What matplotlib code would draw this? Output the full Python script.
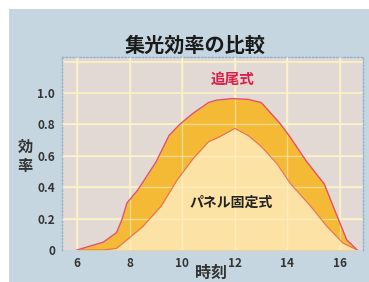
import matplotlib
matplotlib.use("Agg")
import matplotlib.pyplot as plt

plt.rcParams['font.family'] = ['Noto Sans CJK JP', 'DejaVu Sans']

# data
hours_track = [6.0, 6.5, 7.0, 7.5, 7.7, 7.9, 8.3, 9.0, 9.5, 9.9, 10.4, 11.0, 11.3, 11.9, 12.5, 13.0, 13.7, 14.1, 14.7, 15.4, 15.9, 16.25, 16.65]
eff_track   = [0.0, 0.025, 0.05, 0.11, 0.19, 0.30, 0.38, 0.56, 0.73, 0.80, 0.87, 0.94, 0.955, 0.965, 0.96, 0.94, 0.81, 0.72, 0.57, 0.42, 0.21, 0.065, 0.0]
hours_fixed = [6.0, 7.0, 7.5, 7.9, 8.5, 9.2, 9.8, 10.4, 11.0, 11.4, 12.0, 12.5, 13.0, 13.6, 14.1, 14.9, 15.5, 16.1, 16.65]
eff_fixed   = [0.0, 0.0, 0.01, 0.065, 0.15, 0.28, 0.445, 0.58, 0.69, 0.72, 0.775, 0.73, 0.66, 0.55, 0.425, 0.275, 0.15, 0.045, 0.0]
x_ticks = [6, 8, 10, 12, 14, 16]
y_ticks = [0, 0.2, 0.4, 0.6, 0.8, 1.0]
y_ticklabels = ['0', '0.2', '0.4', '0.6', '0.8', '1.0']
title = '集光効率の比較'
label_track = '追尾式'
label_fixed = 'パネル固定式'

W, H = 369, 282
fig = plt.figure(figsize=(W / 100, H / 100), dpi=100)
fig.patch.set_facecolor('white')
bg = fig.add_axes([9 / W, 0, 1 - 9 / W, 1 - 9 / H])
bg.set_facecolor('#c6d6e0')
bg.set_xticks([]); bg.set_yticks([])
for s in bg.spines.values():
    s.set_visible(False)
bg.set_zorder(0)

ax = fig.add_axes([62 / W, 32 / H, 301 / W, 193 / H])
ax.set_zorder(1)
ax.set_facecolor('#e2d9d4')
ax.set_xlim(5.43, 16.87)
ax.set_ylim(0, 1.23)

for g in [0.2, 0.4, 0.6, 0.8, 1.0, 1.2]:
    ax.axhline(g, color='#fbf1c4', lw=1.3, zorder=1)
for g in x_ticks:
    ax.axvline(g, color='#fbf1c4', lw=1.3, zorder=1)

ax.fill_between(hours_track, eff_track, color='#f4b935', lw=0, zorder=2)
ax.fill_between(hours_fixed, eff_fixed, color='#fde2a6', lw=0, zorder=3)
ax.plot(hours_track, eff_track, color='#e2506a', lw=1.0, zorder=4)
ax.plot(hours_fixed, eff_fixed, color='#e87060', lw=0.8, zorder=4)

for g in [0.2, 0.4, 0.6, 0.8]:
    ax.axhline(g, color='#fff4cc', lw=1.0, alpha=0.6, zorder=3.5)
for g in x_ticks:
    ax.axvline(g, color='#fff4cc', lw=1.0, alpha=0.6, zorder=3.5)

ax.set_xticks(x_ticks)
ax.set_xticklabels([str(t) for t in x_ticks])
ax.set_yticks(y_ticks)
ax.set_yticklabels(y_ticklabels)
ax.tick_params(length=0, labelsize=8.5, colors='#333333', pad=5)
for lab in ax.get_xticklabels() + ax.get_yticklabels():
    lab.set_fontweight('bold')
for s in ax.spines.values():
    s.set_color('#8fb2d4')
    s.set_linestyle((0, (1, 1.5)))
    s.set_linewidth(1.0)
ax.spines['bottom'].set_visible(False)

ax.text(11.9, 1.09, label_track, color='#d8204c', fontsize=10.5, fontweight='bold', ha='center', va='center', zorder=5)
ax.text(11.85, 0.3, label_fixed, color='#222222', fontsize=10, fontweight='bold', ha='center', va='center', zorder=5)

fig.text(195 / W, 1 - 45 / H, title, fontsize=14.5, fontweight='bold', color='#1a1a1a', ha='center', va='center', zorder=3)
fig.text(25 / W, 1 - 147 / H, '効', fontsize=11, fontweight='bold', color='#333333', ha='center', va='center', zorder=3)
fig.text(25 / W, 1 - 166 / H, '率', fontsize=11, fontweight='bold', color='#333333', ha='center', va='center', zorder=3)
fig.text(211 / W, 1 - 273 / H, '時刻', fontsize=11.5, fontweight='bold', color='#333333', ha='center', va='center', zorder=3)

fig.savefig('out.png', dpi=100)
